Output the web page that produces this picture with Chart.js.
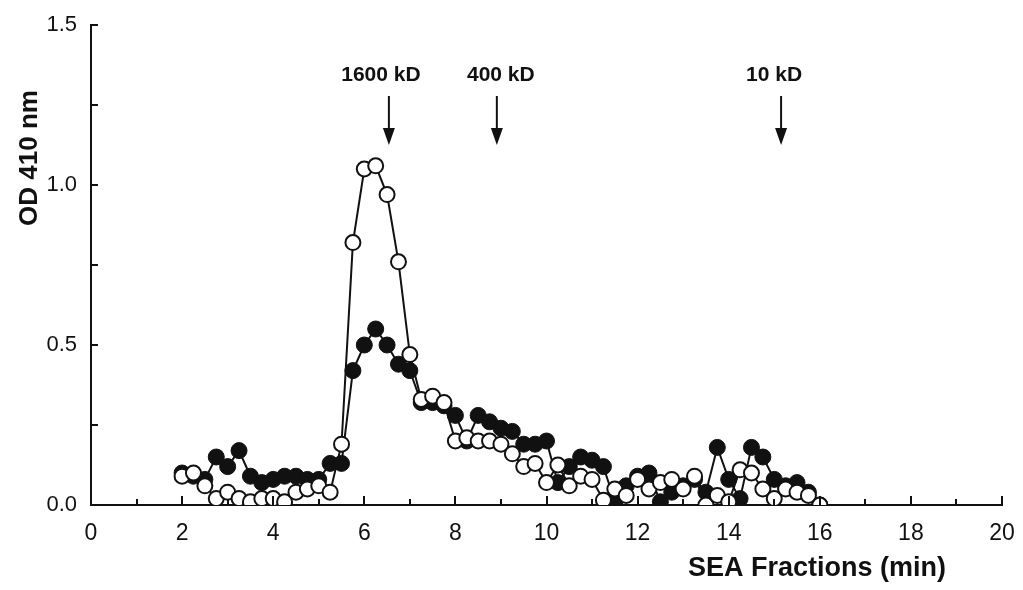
<!DOCTYPE html>
<html><head><meta charset="utf-8">
<script src="https://cdn.jsdelivr.net/npm/chart.js@4"></script>
<style>html,body{margin:0;padding:0;background:#fff}#wrap{width:1023px;height:590px}</style>
</head><body><div id="wrap"><canvas id="c" width="1023" height="590"></canvas></div>
<script>
const fractions = [2,2.25,2.5,2.75,3,3.25,3.5,3.75,4,4.25,4.5,4.75,5,5.25,5.5,5.75,6,6.25,6.5,6.75,7,7.25,7.5,7.75,8,8.25,8.5,8.75,9,9.25,9.5,9.75,10,10.25,10.5,10.75,11,11.25,11.5,11.75,12,12.25,12.5,12.75,13,13.25,13.5,13.75,14,14.25,14.5,14.75,15,15.25,15.5,15.75,16];
const filledOD = [0.10,0.09,0.08,0.15,0.12,0.17,0.09,0.07,0.08,0.09,0.09,0.08,0.08,0.13,0.13,0.42,0.50,0.55,0.50,0.44,0.42,0.32,0.32,0.31,0.28,0.20,0.28,0.26,0.24,0.23,0.19,0.19,0.20,0.07,0.12,0.15,0.14,0.12,0.01,0.06,0.09,0.10,0.01,0.04,0.06,0.08,0.04,0.18,0.08,0.02,0.18,0.15,0.08,0.06,0.07,0.04,0.00];
const openOD = [0.09,0.10,0.06,0.02,0.04,0.02,0.01,0.02,0.02,0.01,0.04,0.05,0.06,0.04,0.19,0.82,1.05,1.06,0.97,0.76,0.47,0.33,0.34,0.32,0.20,0.21,0.20,0.20,0.19,0.16,0.12,0.13,0.07,0.125,0.06,0.09,0.08,0.015,0.05,0.03,0.08,0.05,0.07,0.08,0.05,0.09,0.00,0.03,0.01,0.11,0.10,0.05,0.02,0.05,0.04,0.03,0.00];
const yTickLabels = ['0.0','0.5','1.0','1.5'];
const markerLabels = ['1600 kD','400 kD','10 kD'];
const markerX = [6.54, 8.91, 15.15];
const markerTextDx = [-8, 4, -7];

const filledPts = fractions.map((x,i)=>({x, y: filledOD[i]}));
const openPts = fractions.map((x,i)=>({x, y: openOD[i]}));

const inwardTicks = {
  id:'inwardTicks',
  afterDraw(chart){
    const ctx = chart.ctx, xs = chart.scales.x, ys = chart.scales.y, a = chart.chartArea;
    ctx.save();
    ctx.strokeStyle = '#111'; ctx.lineWidth = 2;
    for(let v=0; v<=20; v++){
      const px = Math.round(xs.getPixelForValue(v));
      const len = (v%2===0) ? 9 : 6;
      ctx.beginPath(); ctx.moveTo(px, a.bottom); ctx.lineTo(px, a.bottom-len); ctx.stroke();
    }
    for(let v=0; v<=6; v++){
      const py = Math.round(ys.getPixelForValue(v*0.25));
      ctx.beginPath(); ctx.moveTo(a.left, py); ctx.lineTo(a.left+7, py); ctx.stroke();
    }
    // axis titles
    ctx.fillStyle = '#111';
    ctx.font = 'bold 27px "Liberation Sans", Arial, sans-serif';
    ctx.textAlign = 'right'; ctx.textBaseline = 'middle';
    ctx.fillText('SEA Fractions (min)', 946, 569);
    ctx.save();
    ctx.translate(30, 158); ctx.rotate(-Math.PI/2);
    ctx.textAlign = 'center';
    ctx.font = 'bold 26px "Liberation Sans", Arial, sans-serif';
    ctx.fillText('OD 410 nm', 0, 0);
    ctx.restore();
    // molecular weight markers
    ctx.font = 'bold 21px "Liberation Sans", Arial, sans-serif';
    ctx.textAlign = 'center';
    markerLabels.forEach((lab,i)=>{
      const px = xs.getPixelForValue(markerX[i]);
      ctx.fillText(lab, px + markerTextDx[i], 75);
      ctx.lineWidth = 2;
      ctx.beginPath(); ctx.moveTo(px, 96); ctx.lineTo(px, 132); ctx.stroke();
      ctx.beginPath(); ctx.moveTo(px-6, 128); ctx.lineTo(px+6, 128); ctx.lineTo(px, 145); ctx.closePath(); ctx.fill();
    });
    ctx.restore();
  }
};

new Chart(document.getElementById('c'), {
  type: 'scatter',
  data: { datasets: [
    { label:'open', data: openPts, showLine:true, borderColor:'#111', borderWidth:2,
      pointRadius:7.5, pointBackgroundColor:'#fff', pointBorderColor:'#111', pointBorderWidth:2, order:1 },
    { label:'filled', data: filledPts, showLine:true, borderColor:'#111', borderWidth:2,
      pointRadius:8, pointBackgroundColor:'#111', pointBorderColor:'#111', pointBorderWidth:1, order:2 }
  ]},
  options: {
    responsive:false, animation:false, devicePixelRatio:1,
    layout:{ padding:{ top:25, right:21, bottom:0, left:0 } },
    plugins:{ legend:{display:false}, tooltip:{enabled:false} },
    scales:{
      x:{ type:'linear', min:0, max:20,
        grid:{ display:true, drawOnChartArea:false, drawTicks:false },
        border:{ display:true, color:'#111', width:2 },
        ticks:{ stepSize:1, autoSkip:false, maxRotation:0, padding:15, color:'#111',
          font:{ family:'"Liberation Sans",Arial,sans-serif', size:23 },
          callback:(v)=> (v%2===0 ? String(v) : '') },
        afterFit:(s)=>{ s.height = 85; s.paddingLeft = 0; s.paddingRight = 0; }
      },
      y:{ type:'linear', min:0, max:1.5,
        grid:{ display:true, drawOnChartArea:false, drawTicks:false },
        border:{ display:true, color:'#111', width:2 },
        ticks:{ stepSize:0.5, padding:14, color:'#111',
          font:{ family:'"Liberation Sans",Arial,sans-serif', size:22 },
          callback:(v)=>{ const i = Math.round(v/0.5); return yTickLabels[i] ?? ''; } },
        afterFit:(s)=>{ s.width = 91; s.paddingTop = 0; s.paddingBottom = 0; }
      }
    }
  },
  plugins:[inwardTicks]
});
</script>
</body></html>
